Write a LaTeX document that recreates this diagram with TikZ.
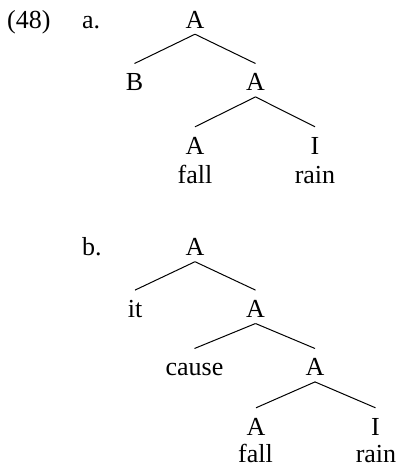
\documentclass[tikz,border=0pt]{standalone}
\usepackage{fontspec}
\setmainfont{Liberation Serif}
\usepackage{tikz}

\tikzset{
    cat/.style={anchor=base, inner xsep=2pt, inner ysep=6pt,
        text height=21pt, text depth=0pt},
    word/.style={anchor=base, inner sep=0pt},
    branch/.style={line width=1pt}
}

\begin{document}
\begin{tikzpicture}[x=1pt, y=-1pt, font=\fontsize{26}{30}\selectfont]

    \useasboundingbox (0,0) rectangle (399,467);

    % Example number and labels
    \node[anchor=base west, inner sep=0pt] (num) at (7,28) {(48)};
    \node[anchor=base west, inner sep=0pt] (labela) at (82,28) {a.};
    \node[anchor=base west, inner sep=0pt] (labelb) at (82,255) {b.};

    % Tree a
    \node[cat] (a0) at (195,28) {A};
    \node[cat] (a1) at (134.5,90.7) {B};
    \node[cat] (a2) at (255.5,90.7) {A};
    \node[cat] (a3) at (195,154) {A};
    \node[cat] (a4) at (315,154) {I};
    \node[word] (fallA) at (195,183.5) {fall};
    \node[word] (rainA) at (315,183.5) {rain};

    \draw[branch] (a0.south) -- (a1.north);
    \draw[branch] (a0.south) -- (a2.north);
    \draw[branch] (a2.south) -- (a3.north);
    \draw[branch] (a2.south) -- (a4.north);

    % Tree b
    \node[cat] (b0) at (195,255.5) {A};
    \node[cat] (b1) at (135,317.3) {it};
    \node[cat] (b2) at (255.5,317.3) {A};
    \node[cat] (b3) at (194.5,375.7) {cause};
    \node[cat] (b4) at (315,375.7) {A};
    \node[cat] (b5) at (256,435) {A};
    \node[cat] (b6) at (375.5,435) {I};
    \node[word] (fallB) at (255.5,462) {fall};
    \node[word] (rainB) at (376,462) {rain};

    \draw[branch] (b0.south) -- (b1.north);
    \draw[branch] (b0.south) -- (b2.north);
    \draw[branch] (b2.south) -- (b3.north);
    \draw[branch] (b2.south) -- (b4.north);
    \draw[branch] (b4.south) -- (b5.north);
    \draw[branch] (b4.south) -- (b6.north);

\end{tikzpicture}
\end{document}
